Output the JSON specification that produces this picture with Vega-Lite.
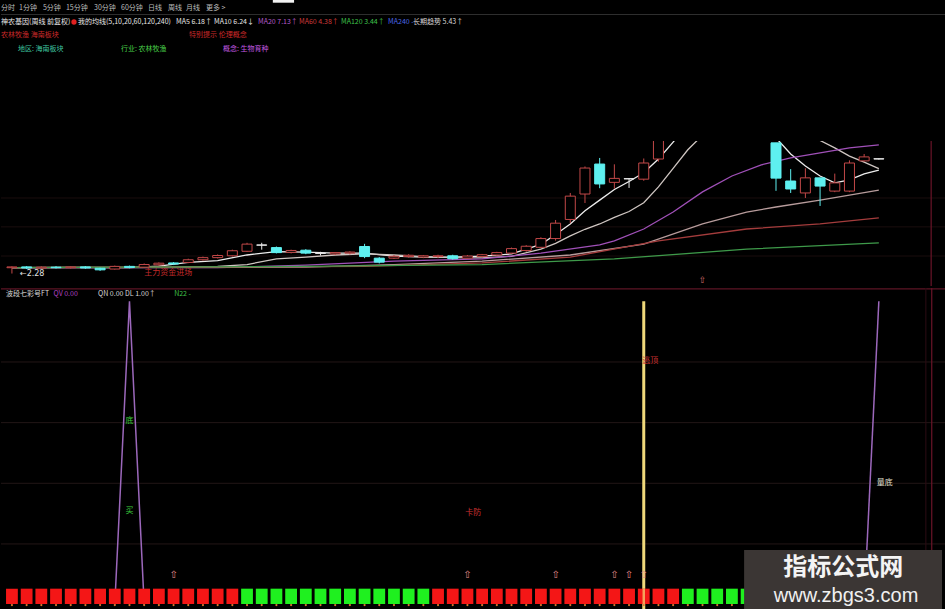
{
  "$schema": "https://vega.github.io/schema/vega-lite/v6.json",
  "background": "#000000",
  "padding": 0,
  "spacing": 0,
  "config": {
    "view": {"stroke": null},
    "legend": {"disable": true},
    "font": "Noto Sans CJK SC"
  },
  "datasets": {
    "hdr": [
      {"i": -0.4, "r": 0.8, "t": "分时", "k": "menu"},
      {"i": 0.81, "r": 0.8, "t": "1分钟", "k": "menu"},
      {"i": 2.42, "r": 0.8, "t": "5分钟", "k": "menu"},
      {"i": 3.97, "r": 0.8, "t": "15分钟", "k": "menu"},
      {"i": 5.86, "r": 0.8, "t": "30分钟", "k": "menu"},
      {"i": 7.68, "r": 0.8, "t": "60分钟", "k": "menu"},
      {"i": 9.49, "r": 0.8, "t": "日线", "k": "menu"},
      {"i": 10.84, "r": 0.8, "t": "周线", "k": "menu"},
      {"i": 12.05, "r": 0.8, "t": "月线", "k": "menu"},
      {"i": 13.4, "r": 0.8, "t": "更多 >", "k": "menu"},
      {"i": -0.4, "r": 2.2, "t": "神农基因(周线 前复权)", "k": "title"},
      {"i": 4.78, "r": 2.2, "t": "我的均线(5,10,20,60,120,240)", "k": "title"},
      {"i": 11.38, "r": 2.2, "t": "MA5 6.18↑", "k": "title"},
      {"i": 13.94, "r": 2.2, "t": "MA10 6.24↓", "k": "title"},
      {"i": 16.9, "r": 2.2, "t": "MA20 7.13↑", "k": "ma20"},
      {"i": 19.66, "r": 2.2, "t": "MA60 4.38↑", "k": "ma60"},
      {"i": 22.49, "r": 2.2, "t": "MA120 3.44↑", "k": "ma120"},
      {"i": 25.66, "r": 2.2, "t": "MA240 -", "k": "ma240"},
      {"i": 27.34, "r": 2.2, "t": "长期趋势 5.43↑", "k": "trend"},
      {"i": -0.4, "r": 3.5, "t": "农林牧渔 海南板块", "k": "hint"},
      {"i": 12.26, "r": 3.5, "t": "特别提示 伦理概念", "k": "hint"},
      {"i": 0.74, "r": 4.9, "t": "地区: 海南板块", "k": "area"},
      {"i": 7.68, "r": 4.9, "t": "行业: 农林牧渔", "k": "industry"},
      {"i": 14.55, "r": 4.9, "t": "概念: 生物育种", "k": "concept"}
    ],
    "candles": [
      {"i": 0, "o": 2.50, "h": 2.55, "l": 2.28, "c": 2.53, "d": "up"},
      {"i": 1, "o": 2.53, "h": 2.56, "l": 2.45, "c": 2.49, "d": "down"},
      {"i": 2, "o": 2.49, "h": 2.55, "l": 2.46, "c": 2.52, "d": "up"},
      {"i": 3, "o": 2.52, "h": 2.56, "l": 2.47, "c": 2.50, "d": "down"},
      {"i": 4, "o": 2.50, "h": 2.55, "l": 2.47, "c": 2.53, "d": "up"},
      {"i": 5, "o": 2.53, "h": 2.56, "l": 2.46, "c": 2.49, "d": "down"},
      {"i": 6, "o": 2.48, "h": 2.50, "l": 2.38, "c": 2.42, "d": "down"},
      {"i": 7, "o": 2.45, "h": 2.58, "l": 2.43, "c": 2.55, "d": "up"},
      {"i": 8, "o": 2.55, "h": 2.58, "l": 2.48, "c": 2.51, "d": "down"},
      {"i": 9, "o": 2.52, "h": 2.66, "l": 2.50, "c": 2.62, "d": "up"},
      {"i": 10, "o": 2.61, "h": 2.70, "l": 2.57, "c": 2.67, "d": "up"},
      {"i": 11, "o": 2.68, "h": 2.71, "l": 2.60, "c": 2.64, "d": "down"},
      {"i": 12, "o": 2.70, "h": 2.84, "l": 2.67, "c": 2.80, "d": "up"},
      {"i": 13, "o": 2.80, "h": 2.92, "l": 2.77, "c": 2.88, "d": "up"},
      {"i": 14, "o": 2.88, "h": 3.00, "l": 2.85, "c": 2.96, "d": "up"},
      {"i": 15, "o": 2.95, "h": 3.18, "l": 2.92, "c": 3.14, "d": "up"},
      {"i": 16, "o": 3.12, "h": 3.44, "l": 3.10, "c": 3.39, "d": "up"},
      {"i": 17, "o": 3.36, "h": 3.44, "l": 3.18, "c": 3.35, "d": "flat"},
      {"i": 18, "o": 3.26, "h": 3.30, "l": 3.04, "c": 3.07, "d": "down"},
      {"i": 19, "o": 3.08, "h": 3.18, "l": 3.04, "c": 3.15, "d": "up"},
      {"i": 20, "o": 3.16, "h": 3.20, "l": 3.01, "c": 3.05, "d": "down"},
      {"i": 21, "o": 3.05, "h": 3.10, "l": 2.96, "c": 3.04, "d": "flat"},
      {"i": 22, "o": 3.02, "h": 3.09, "l": 2.98, "c": 3.07, "d": "up"},
      {"i": 23, "o": 3.05, "h": 3.12, "l": 3.00, "c": 3.09, "d": "up"},
      {"i": 24, "o": 3.30, "h": 3.40, "l": 2.86, "c": 2.92, "d": "down"},
      {"i": 25, "o": 2.86, "h": 2.90, "l": 2.66, "c": 2.71, "d": "down"},
      {"i": 26, "o": 2.86, "h": 2.98, "l": 2.83, "c": 2.93, "d": "up"},
      {"i": 27, "o": 2.92, "h": 3.01, "l": 2.88, "c": 2.97, "d": "up"},
      {"i": 28, "o": 2.90, "h": 2.98, "l": 2.86, "c": 2.95, "d": "up"},
      {"i": 29, "o": 2.92, "h": 2.99, "l": 2.86, "c": 2.95, "d": "up"},
      {"i": 30, "o": 2.95, "h": 2.99, "l": 2.80, "c": 2.84, "d": "down"},
      {"i": 31, "o": 2.86, "h": 2.98, "l": 2.84, "c": 2.94, "d": "up"},
      {"i": 32, "o": 2.92, "h": 3.02, "l": 2.89, "c": 2.99, "d": "up"},
      {"i": 33, "o": 2.98, "h": 3.10, "l": 2.95, "c": 3.07, "d": "up"},
      {"i": 34, "o": 3.05, "h": 3.26, "l": 3.02, "c": 3.22, "d": "up"},
      {"i": 35, "o": 3.15, "h": 3.35, "l": 3.10, "c": 3.31, "d": "up"},
      {"i": 36, "o": 3.27, "h": 3.65, "l": 3.23, "c": 3.60, "d": "up"},
      {"i": 37, "o": 3.60, "h": 4.30, "l": 3.52, "c": 4.18, "d": "up"},
      {"i": 38, "o": 4.32, "h": 5.32, "l": 4.18, "c": 5.20, "d": "up"},
      {"i": 39, "o": 5.28, "h": 6.32, "l": 4.94, "c": 6.26, "d": "up"},
      {"i": 40, "o": 6.41, "h": 6.64, "l": 5.50, "c": 5.66, "d": "down"},
      {"i": 41, "o": 5.72, "h": 6.40, "l": 5.48, "c": 5.87, "d": "up"},
      {"i": 42, "o": 5.86, "h": 5.88, "l": 5.51, "c": 5.85, "d": "flat"},
      {"i": 43, "o": 5.84, "h": 6.62, "l": 5.78, "c": 6.45, "d": "up"},
      {"i": 44, "o": 6.60, "h": 7.80, "l": 6.50, "c": 7.65, "d": "up"},
      {"i": 45, "o": 7.70, "h": 8.60, "l": 7.40, "c": 8.40, "d": "up"},
      {"i": 46, "o": 8.40, "h": 9.30, "l": 8.10, "c": 9.10, "d": "up"},
      {"i": 47, "o": 9.10, "h": 9.60, "l": 8.50, "c": 8.80, "d": "down"},
      {"i": 48, "o": 8.80, "h": 9.20, "l": 8.20, "c": 8.50, "d": "down"},
      {"i": 49, "o": 8.50, "h": 8.90, "l": 7.90, "c": 8.10, "d": "down"},
      {"i": 50, "o": 8.10, "h": 8.40, "l": 7.60, "c": 7.80, "d": "down"},
      {"i": 51, "o": 7.80, "h": 8.00, "l": 7.45, "c": 7.60, "d": "down"},
      {"i": 52, "o": 7.21, "h": 7.21, "l": 5.40, "c": 5.88, "d": "down"},
      {"i": 53, "o": 5.77, "h": 6.22, "l": 5.32, "c": 5.47, "d": "down"},
      {"i": 54, "o": 5.32, "h": 6.25, "l": 5.13, "c": 5.89, "d": "up"},
      {"i": 55, "o": 5.89, "h": 5.89, "l": 4.83, "c": 5.58, "d": "down"},
      {"i": 56, "o": 5.39, "h": 6.05, "l": 5.35, "c": 5.70, "d": "up"},
      {"i": 57, "o": 5.39, "h": 6.55, "l": 5.35, "c": 6.45, "d": "up"},
      {"i": 58, "o": 6.53, "h": 6.79, "l": 6.50, "c": 6.68, "d": "up"},
      {"i": 59, "o": 6.60, "h": 6.62, "l": 6.58, "c": 6.61, "d": "flat"}
    ],
    "ma": [
      {"s": "MA5", "i": 0, "v": 2.50}, {"s": "MA5", "i": 4, "v": 2.51}, {"s": "MA5", "i": 8, "v": 2.50},
      {"s": "MA5", "i": 10, "v": 2.56}, {"s": "MA5", "i": 12, "v": 2.70}, {"s": "MA5", "i": 14, "v": 2.77},
      {"s": "MA5", "i": 16, "v": 2.98}, {"s": "MA5", "i": 18, "v": 3.11}, {"s": "MA5", "i": 20, "v": 3.09},
      {"s": "MA5", "i": 22, "v": 3.05}, {"s": "MA5", "i": 24, "v": 3.05}, {"s": "MA5", "i": 26, "v": 2.94},
      {"s": "MA5", "i": 28, "v": 2.90}, {"s": "MA5", "i": 30, "v": 2.90}, {"s": "MA5", "i": 32, "v": 2.94},
      {"s": "MA5", "i": 34, "v": 3.02}, {"s": "MA5", "i": 36, "v": 3.38}, {"s": "MA5", "i": 37, "v": 3.75},
      {"s": "MA5", "i": 38, "v": 4.15}, {"s": "MA5", "i": 39, "v": 4.65}, {"s": "MA5", "i": 40, "v": 5.05},
      {"s": "MA5", "i": 41, "v": 5.45}, {"s": "MA5", "i": 42, "v": 5.75}, {"s": "MA5", "i": 43, "v": 6.08},
      {"s": "MA5", "i": 44, "v": 6.60}, {"s": "MA5", "i": 45, "v": 7.24}, {"s": "MA5", "i": 46, "v": 7.90},
      {"s": "MA5", "i": 47, "v": 8.40}, {"s": "MA5", "i": 48, "v": 8.70}, {"s": "MA5", "i": 49, "v": 8.75},
      {"s": "MA5", "i": 50, "v": 8.50}, {"s": "MA5", "i": 51, "v": 8.10}, {"s": "MA5", "i": 52, "v": 7.40},
      {"s": "MA5", "i": 53, "v": 6.79}, {"s": "MA5", "i": 54, "v": 6.34}, {"s": "MA5", "i": 55, "v": 5.96},
      {"s": "MA5", "i": 56, "v": 5.70}, {"s": "MA5", "i": 57, "v": 5.81}, {"s": "MA5", "i": 58, "v": 6.04},
      {"s": "MA5", "i": 59, "v": 6.18},
      {"s": "MA10", "i": 0, "v": 2.50}, {"s": "MA10", "i": 10, "v": 2.51}, {"s": "MA10", "i": 14, "v": 2.55},
      {"s": "MA10", "i": 16, "v": 2.62}, {"s": "MA10", "i": 18, "v": 2.83}, {"s": "MA10", "i": 20, "v": 2.90},
      {"s": "MA10", "i": 22, "v": 2.98}, {"s": "MA10", "i": 24, "v": 3.02}, {"s": "MA10", "i": 26, "v": 2.98},
      {"s": "MA10", "i": 28, "v": 2.92}, {"s": "MA10", "i": 30, "v": 2.88}, {"s": "MA10", "i": 32, "v": 2.87},
      {"s": "MA10", "i": 34, "v": 2.93}, {"s": "MA10", "i": 36, "v": 3.20}, {"s": "MA10", "i": 37, "v": 3.42},
      {"s": "MA10", "i": 38, "v": 3.70}, {"s": "MA10", "i": 39, "v": 3.95}, {"s": "MA10", "i": 40, "v": 4.15},
      {"s": "MA10", "i": 41, "v": 4.40}, {"s": "MA10", "i": 42, "v": 4.62}, {"s": "MA10", "i": 43, "v": 4.95},
      {"s": "MA10", "i": 44, "v": 5.55}, {"s": "MA10", "i": 45, "v": 6.25}, {"s": "MA10", "i": 46, "v": 6.95},
      {"s": "MA10", "i": 47, "v": 7.50}, {"s": "MA10", "i": 48, "v": 7.95}, {"s": "MA10", "i": 49, "v": 8.20},
      {"s": "MA10", "i": 50, "v": 8.30}, {"s": "MA10", "i": 51, "v": 8.20}, {"s": "MA10", "i": 52, "v": 8.00},
      {"s": "MA10", "i": 53, "v": 7.80}, {"s": "MA10", "i": 54, "v": 7.55}, {"s": "MA10", "i": 55, "v": 7.30},
      {"s": "MA10", "i": 56, "v": 7.02}, {"s": "MA10", "i": 57, "v": 6.71}, {"s": "MA10", "i": 58, "v": 6.48},
      {"s": "MA10", "i": 59, "v": 6.24},
      {"s": "MA20", "i": 0, "v": 2.50}, {"s": "MA20", "i": 14, "v": 2.50}, {"s": "MA20", "i": 20, "v": 2.60},
      {"s": "MA20", "i": 26, "v": 2.75}, {"s": "MA20", "i": 32, "v": 2.83}, {"s": "MA20", "i": 36, "v": 3.05},
      {"s": "MA20", "i": 40, "v": 3.36}, {"s": "MA20", "i": 41, "v": 3.51}, {"s": "MA20", "i": 43, "v": 3.96},
      {"s": "MA20", "i": 45, "v": 4.60}, {"s": "MA20", "i": 47, "v": 5.36}, {"s": "MA20", "i": 49, "v": 5.96},
      {"s": "MA20", "i": 51, "v": 6.38}, {"s": "MA20", "i": 53, "v": 6.64}, {"s": "MA20", "i": 55, "v": 6.83},
      {"s": "MA20", "i": 57, "v": 7.02}, {"s": "MA20", "i": 59, "v": 7.13},
      {"s": "TREND", "i": 0, "v": 2.50}, {"s": "TREND", "i": 20, "v": 2.52}, {"s": "TREND", "i": 26, "v": 2.62},
      {"s": "TREND", "i": 32, "v": 2.75}, {"s": "TREND", "i": 38, "v": 2.98}, {"s": "TREND", "i": 43, "v": 3.39},
      {"s": "TREND", "i": 47, "v": 4.15}, {"s": "TREND", "i": 50, "v": 4.60}, {"s": "TREND", "i": 52, "v": 4.79},
      {"s": "TREND", "i": 55, "v": 5.05}, {"s": "TREND", "i": 57, "v": 5.24}, {"s": "TREND", "i": 59, "v": 5.43},
      {"s": "MA60", "i": 0, "v": 2.50}, {"s": "MA60", "i": 24, "v": 2.55}, {"s": "MA60", "i": 32, "v": 2.68},
      {"s": "MA60", "i": 38, "v": 2.90}, {"s": "MA60", "i": 44, "v": 3.51}, {"s": "MA60", "i": 50, "v": 3.96},
      {"s": "MA60", "i": 55, "v": 4.15}, {"s": "MA60", "i": 59, "v": 4.38},
      {"s": "MA120", "i": 0, "v": 2.50}, {"s": "MA120", "i": 20, "v": 2.55}, {"s": "MA120", "i": 32, "v": 2.62},
      {"s": "MA120", "i": 41, "v": 2.83}, {"s": "MA120", "i": 50, "v": 3.20}, {"s": "MA120", "i": 59, "v": 3.44}
    ],
    "flags": [
      {"i": 0, "c": "red"}, {"i": 1, "c": "red"}, {"i": 2, "c": "red"}, {"i": 3, "c": "red"},
      {"i": 4, "c": "red"}, {"i": 5, "c": "red"}, {"i": 6, "c": "red"}, {"i": 7, "c": "red"},
      {"i": 8, "c": "red"}, {"i": 9, "c": "red"}, {"i": 10, "c": "red"}, {"i": 11, "c": "red"},
      {"i": 12, "c": "red"}, {"i": 13, "c": "red"}, {"i": 14, "c": "red"}, {"i": 15, "c": "red"},
      {"i": 16, "c": "green"}, {"i": 17, "c": "green"}, {"i": 18, "c": "green"}, {"i": 19, "c": "green"},
      {"i": 20, "c": "green"}, {"i": 21, "c": "green"}, {"i": 22, "c": "green"}, {"i": 23, "c": "green"},
      {"i": 24, "c": "green"}, {"i": 25, "c": "green"}, {"i": 26, "c": "green"}, {"i": 27, "c": "green"},
      {"i": 28, "c": "green"},
      {"i": 29, "c": "red"}, {"i": 30, "c": "red"}, {"i": 31, "c": "red"}, {"i": 32, "c": "red"},
      {"i": 33, "c": "red"}, {"i": 34, "c": "red"}, {"i": 35, "c": "red"}, {"i": 36, "c": "red"},
      {"i": 37, "c": "red"}, {"i": 38, "c": "red"}, {"i": 39, "c": "red"}, {"i": 40, "c": "red"},
      {"i": 41, "c": "red"}, {"i": 42, "c": "red"}, {"i": 43, "c": "red"}, {"i": 44, "c": "red"},
      {"i": 45, "c": "red"},
      {"i": 46, "c": "green"}, {"i": 47, "c": "green"}, {"i": 48, "c": "green"}, {"i": 49, "c": "green"},
      {"i": 50, "c": "green"}, {"i": 51, "c": "green"}, {"i": 52, "c": "green"}, {"i": 53, "c": "green"},
      {"i": 54, "c": "green"}, {"i": 55, "c": "green"}, {"i": 56, "c": "green"}, {"i": 57, "c": "green"},
      {"i": 58, "c": "green"}, {"i": 59, "c": "green"}
    ],
    "osc": [
      {"g": "a", "i": 7, "v": 0}, {"g": "a", "i": 8, "v": 100}, {"g": "a", "i": 9, "v": 0},
      {"g": "b", "i": 58, "v": 0}, {"g": "b", "i": 59, "v": 100}
    ],
    "arrows": [
      {"i": 11, "v": 9.8}, {"i": 31, "v": 9.8}, {"i": 37, "v": 9.8},
      {"i": 41, "v": 9.8}, {"i": 42, "v": 9.8}, {"i": 43, "v": 9.8}
    ],
    "sig": [
      {"i": 8, "v": 60.5, "t": "底", "k": "buy"},
      {"i": 8, "v": 30.9, "t": "买", "k": "buy"},
      {"i": 31.4, "v": 30.2, "t": "卡防", "k": "sell"},
      {"i": 43.45, "v": 80.3, "t": "逃顶", "k": "sell"},
      {"i": 59.4, "v": 40.1, "t": "量底", "k": "note"}
    ],
    "ihdr": [
      {"i": -0.4, "v": 102.3, "t": "波段七彩号FT", "k": "white"},
      {"i": 2.83, "v": 102.3, "t": "QV 0.00", "k": "magenta"},
      {"i": 5.86, "v": 102.3, "t": "QN 0.00  DL 1.00↑", "k": "white"},
      {"i": 11.04, "v": 102.3, "t": "N22 -", "k": "green"}
    ]
  },
  "vconcat": [
    {
      "width": 945,
      "height": 140,
      "layer": [
        {
          "data": {"values": [{"r": 1.45}]},
          "mark": {"type": "rule", "color": "#2e2e2e", "strokeWidth": 1},
          "encoding": {
            "y": {"field": "r", "type": "quantitative", "scale": {"domain": [0, 14], "reverse": true, "nice": false, "zero": false}, "axis": null}
          }
        },
        {
          "data": {"values": [{"i": 17.9, "i2": 19.33, "r": 0, "r2": 0.27}]},
          "mark": {"type": "rect", "color": "#f2f2f2"},
          "encoding": {
            "x": {"field": "i", "type": "quantitative", "scale": {"type": "linear", "domain": [-0.404, 63.23], "nice": false, "zero": false}, "axis": null},
            "x2": {"field": "i2"},
            "y": {"field": "r", "type": "quantitative", "scale": {"domain": [0, 14], "reverse": true, "nice": false, "zero": false}, "axis": null},
            "y2": {"field": "r2"}
          }
        },
        {
          "data": {"values": [{"i": 4.51, "r": 2.2}]},
          "mark": {"type": "circle", "color": "#e02020", "size": 28, "opacity": 1},
          "encoding": {
            "x": {"field": "i", "type": "quantitative", "scale": {"type": "linear", "domain": [-0.404, 63.23], "nice": false, "zero": false}, "axis": null},
            "y": {"field": "r", "type": "quantitative", "scale": {"domain": [0, 14], "reverse": true, "nice": false, "zero": false}, "axis": null}
          }
        },
        {
          "data": {"name": "hdr"},
          "mark": {"type": "text", "align": "left", "baseline": "middle", "fontSize": 7, "font": "Noto Sans CJK SC"},
          "encoding": {
            "x": {"field": "i", "type": "quantitative", "scale": {"type": "linear", "domain": [-0.404, 63.23], "nice": false, "zero": false}, "axis": null},
            "y": {"field": "r", "type": "quantitative", "scale": {"domain": [0, 14], "reverse": true, "nice": false, "zero": false}, "axis": null},
            "text": {"field": "t"},
            "color": {
              "field": "k", "type": "nominal",
              "scale": {
                "domain": ["menu", "title", "ma20", "ma60", "ma120", "ma240", "trend", "hint", "area", "industry", "concept"],
                "range": ["#bdbdbd", "#e6e6e6", "#b55ac8", "#cf3a3a", "#3fc24a", "#4a66e6", "#d6d6d6", "#cc2a2a", "#3fc6a0", "#48cc48", "#c25ae0"]
              }
            }
          }
        }
      ]
    },
    {
      "width": 945,
      "height": 145,
      "resolve": {"scale": {"color": "independent", "fill": "independent", "stroke": "independent"}},
      "encoding": {
        "x": {"field": "i", "type": "quantitative", "scale": {"type": "linear", "domain": [-0.404, 63.23], "nice": false, "zero": false}, "axis": null}
      },
      "layer": [
        {
          "data": {"values": [{"p": 5.13}, {"p": 4.04}, {"p": 2.94}]},
          "mark": {"type": "rule", "color": "#1a0d0d", "strokeWidth": 1},
          "encoding": {
            "x": null,
            "y": {"field": "p", "type": "quantitative", "scale": {"domain": [1.81, 7.28], "nice": false, "zero": false}, "axis": null}
          }
        },
        {
          "data": {"values": [{"i": 62.56}]},
          "mark": {"type": "rule", "color": "#6a1428", "strokeWidth": 1.2},
          "encoding": {}
        },
        {
          "data": {"name": "ma"},
          "mark": {"type": "line", "clip": true, "strokeWidth": 1.3},
          "encoding": {
            "y": {"field": "v", "type": "quantitative", "scale": {"domain": [1.81, 7.28], "nice": false, "zero": false}, "axis": null},
            "color": {
              "field": "s", "type": "nominal",
              "scale": {
                "domain": ["MA120", "MA60", "TREND", "MA20", "MA10", "MA5"],
                "range": ["#3e9a4a", "#a43c3c", "#b89c9c", "#a050b8", "#cfc6c2", "#ececec"]
              }
            },
            "order": {"field": "i", "type": "quantitative"}
          }
        },
        {
          "data": {"name": "candles"},
          "mark": {"type": "rule", "clip": true, "strokeWidth": 1},
          "encoding": {
            "y": {"field": "l", "type": "quantitative", "scale": {"domain": [1.81, 7.28], "nice": false, "zero": false}, "axis": null},
            "y2": {"field": "h"},
            "color": {"field": "d", "type": "nominal", "scale": {"domain": ["up", "down", "flat"], "range": ["#c24848", "#5ef0f0", "#e8e8e8"]}}
          }
        },
        {
          "data": {"name": "candles"},
          "mark": {"type": "bar", "clip": true, "width": 10, "strokeWidth": 1},
          "encoding": {
            "y": {"field": "o", "type": "quantitative", "scale": {"domain": [1.81, 7.28], "nice": false, "zero": false}, "axis": null},
            "y2": {"field": "c"},
            "fill": {"field": "d", "type": "nominal", "scale": {"domain": ["up", "down", "flat"], "range": ["#000000", "#5ef0f0", "#e8e8e8"]}},
            "stroke": {"field": "d", "type": "nominal", "scale": {"domain": ["up", "down", "flat"], "range": ["#c24848", "#5ef0f0", "#e8e8e8"]}}
          }
        },
        {
          "data": {"values": [{"i": 0, "p": 2.28, "t": "←2.28"}]},
          "mark": {"type": "text", "align": "left", "baseline": "middle", "dx": 8, "fontSize": 8, "color": "#e0e0e0", "font": "DejaVu Sans"},
          "encoding": {
            "y": {"field": "p", "type": "quantitative", "scale": {"domain": [1.81, 7.28], "nice": false, "zero": false}, "axis": null},
            "text": {"field": "t"}
          }
        },
        {
          "data": {"values": [{"i": 9.0, "p": 2.30, "t": "主力资金进场"}]},
          "mark": {"type": "text", "align": "left", "baseline": "middle", "fontSize": 8, "color": "#c02a2a", "font": "Noto Sans CJK SC"},
          "encoding": {
            "y": {"field": "p", "type": "quantitative", "scale": {"domain": [1.81, 7.28], "nice": false, "zero": false}, "axis": null},
            "text": {"field": "t"}
          }
        },
        {
          "data": {"values": [{"i": 47, "p": 2.04, "t": "⇧"}]},
          "mark": {"type": "text", "align": "center", "baseline": "middle", "fontSize": 9, "color": "#d06a6a", "font": "DejaVu Sans"},
          "encoding": {
            "y": {"field": "p", "type": "quantitative", "scale": {"domain": [1.81, 7.28], "nice": false, "zero": false}, "axis": null},
            "text": {"field": "t"}
          }
        }
      ]
    },
    {
      "width": 945,
      "height": 324,
      "resolve": {"scale": {"color": "independent"}},
      "encoding": {
        "x": {"field": "i", "type": "quantitative", "scale": {"type": "linear", "domain": [-0.404, 63.23], "nice": false, "zero": false}, "axis": null}
      },
      "layer": [
        {
          "data": {"values": [{"v": 20}, {"v": 40}, {"v": 60}, {"v": 80}]},
          "mark": {"type": "rule", "color": "#221616", "strokeWidth": 1},
          "encoding": {
            "x": null,
            "y": {"field": "v", "type": "quantitative", "scale": {"domain": [-2.44, 104.39], "nice": false, "zero": false}, "axis": null}
          }
        },
        {
          "data": {"values": [{"v": 104.1}]},
          "mark": {"type": "rule", "color": "#5c1424", "strokeWidth": 1.2},
          "encoding": {
            "x": null,
            "y": {"field": "v", "type": "quantitative", "scale": {"domain": [-2.44, 104.39], "nice": false, "zero": false}, "axis": null}
          }
        },
        {
          "data": {"values": [{"i": 62.2}]},
          "mark": {"type": "rule", "color": "#2c0c14", "strokeWidth": 1},
          "encoding": {}
        },
        {
          "data": {"values": [{"i": 62.6}]},
          "mark": {"type": "rule", "color": "#6a1428", "strokeWidth": 1.2},
          "encoding": {}
        },
        {
          "data": {"name": "ihdr"},
          "mark": {"type": "text", "align": "left", "baseline": "middle", "fontSize": 7, "font": "Noto Sans CJK SC"},
          "encoding": {
            "y": {"field": "v", "type": "quantitative", "scale": {"domain": [-2.44, 104.39], "nice": false, "zero": false}, "axis": null},
            "text": {"field": "t"},
            "color": {"field": "k", "type": "nominal", "scale": {"domain": ["white", "magenta", "green"], "range": ["#d8d8d8", "#b040c0", "#3fc24a"]}}
          }
        },
        {
          "data": {"name": "osc"},
          "mark": {"type": "line", "color": "#9c68bc", "strokeWidth": 1.5, "clip": true},
          "encoding": {
            "y": {"field": "v", "type": "quantitative", "scale": {"domain": [-2.44, 104.39], "nice": false, "zero": false}, "axis": null},
            "detail": {"field": "g"}
          }
        },
        {
          "data": {"values": [{"i": 43, "v": 100, "v2": -2.44}]},
          "mark": {"type": "rule", "color": "#efd87a", "strokeWidth": 3},
          "encoding": {
            "y": {"field": "v", "type": "quantitative", "scale": {"domain": [-2.44, 104.39], "nice": false, "zero": false}, "axis": null},
            "y2": {"field": "v2"}
          }
        },
        {
          "data": {"name": "flags"},
          "mark": {"type": "bar", "width": 11.8},
          "encoding": {
            "y": {"datum": 5.25, "type": "quantitative", "scale": {"domain": [-2.44, 104.39], "nice": false, "zero": false}, "axis": null},
            "y2": {"datum": 0.2},
            "color": {"field": "c", "type": "nominal", "scale": {"domain": ["red", "green"], "range": ["#f41616", "#1ff01f"]}}
          }
        },
        {
          "data": {"name": "flags"},
          "mark": {"type": "circle", "size": 5, "color": "#e07a30", "opacity": 1},
          "encoding": {
            "y": {"datum": -0.15, "type": "quantitative", "scale": {"domain": [-2.44, 104.39], "nice": false, "zero": false}, "axis": null}
          }
        },
        {
          "data": {"values": [{"i": 43, "v": 5.25, "v2": 0.2}]},
          "mark": {"type": "rule", "color": "#f5b060", "strokeWidth": 2.5, "opacity": 0.9},
          "encoding": {
            "y": {"field": "v", "type": "quantitative", "scale": {"domain": [-2.44, 104.39], "nice": false, "zero": false}, "axis": null},
            "y2": {"field": "v2"}
          }
        },
        {
          "data": {"name": "arrows"},
          "mark": {"type": "text", "text": "⇧", "fontSize": 10, "color": "#e08a8a", "font": "DejaVu Sans", "baseline": "middle", "align": "center"},
          "encoding": {
            "y": {"field": "v", "type": "quantitative", "scale": {"domain": [-2.44, 104.39], "nice": false, "zero": false}, "axis": null}
          }
        },
        {
          "data": {"name": "sig"},
          "mark": {"type": "text", "fontSize": 8, "font": "Noto Sans CJK SC", "baseline": "middle", "align": "center"},
          "encoding": {
            "y": {"field": "v", "type": "quantitative", "scale": {"domain": [-2.44, 104.39], "nice": false, "zero": false}, "axis": null},
            "text": {"field": "t"},
            "color": {"field": "k", "type": "nominal", "scale": {"domain": ["buy", "sell", "note"], "range": ["#3ccc3c", "#c83030", "#e2e2d2"]}}
          }
        },
        {
          "data": {"values": [{"i": 49.83, "i2": 63.3, "v": 18.0, "v2": -2.44}]},
          "mark": {"type": "rect", "color": "#3b3634"},
          "encoding": {
            "x2": {"field": "i2"},
            "y": {"field": "v", "type": "quantitative", "scale": {"domain": [-2.44, 104.39], "nice": false, "zero": false}, "axis": null},
            "y2": {"field": "v2"}
          }
        },
        {
          "data": {"values": [{"i": 56.57, "v": 12.1, "t": "指标公式网"}]},
          "mark": {"type": "text", "fontSize": 24, "fontWeight": "bold", "font": "Noto Sans CJK SC", "color": "#f4f4f4", "baseline": "middle", "align": "center"},
          "encoding": {
            "y": {"field": "v", "type": "quantitative", "scale": {"domain": [-2.44, 104.39], "nice": false, "zero": false}, "axis": null},
            "text": {"field": "t"}
          }
        },
        {
          "data": {"values": [{"i": 56.77, "v": 3.0, "t": "www.zbgs3.com"}]},
          "mark": {"type": "text", "fontSize": 20, "font": "Liberation Sans", "color": "#f0f0f0", "baseline": "middle", "align": "center"},
          "encoding": {
            "y": {"field": "v", "type": "quantitative", "scale": {"domain": [-2.44, 104.39], "nice": false, "zero": false}, "axis": null},
            "text": {"field": "t"}
          }
        }
      ]
    }
  ]
}
